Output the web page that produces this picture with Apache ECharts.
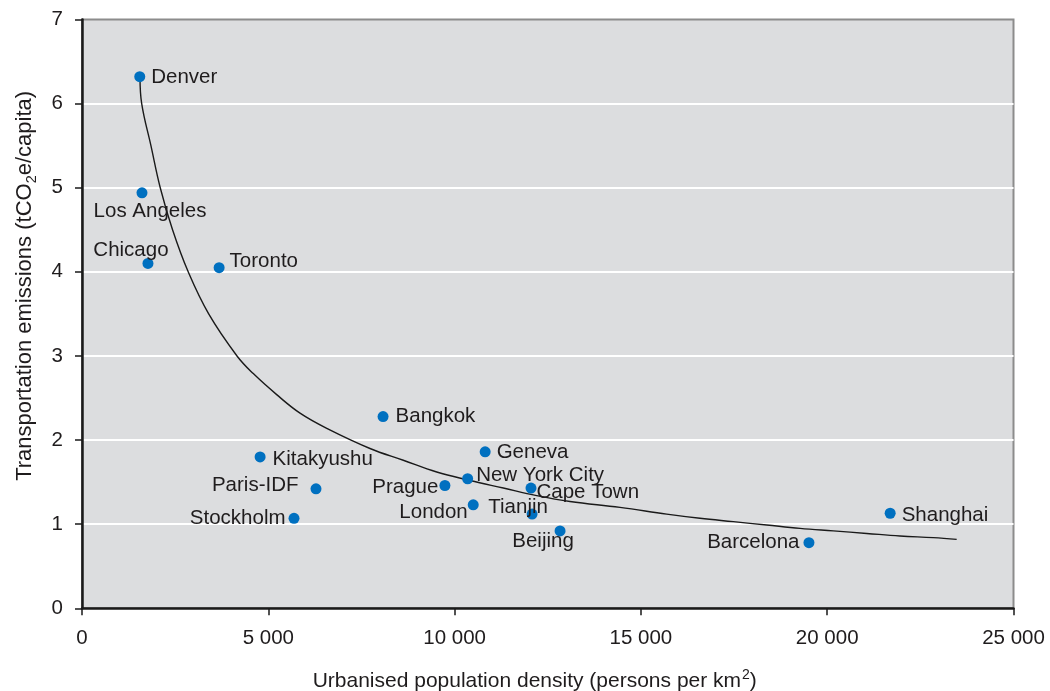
<!DOCTYPE html>
<html>
<head>
<meta charset="utf-8">
<script src="https://cdn.jsdelivr.net/npm/echarts@6/dist/echarts.min.js"></script>
<style>
  html, body { margin: 0; padding: 0; background: #ffffff; }
  #chart { width: 1050px; height: 691px; }
</style>
</head>
<body>
<div id="chart"></div>
<script>
// City observations: urbanised density (persons/km²) vs transport emissions (tCO2e/capita)
const cities = ['Denver', 'Los Angeles', 'Chicago', 'Toronto', 'Bangkok', 'Kitakyushu',
  'Paris-IDF', 'Stockholm', 'Prague', 'New York City', 'Geneva', 'London',
  'Cape Town', 'Tianjin', 'Beijing', 'Barcelona', 'Shanghai'];
const density = [1550, 1610, 1770, 3680, 8080, 4780,
  6280, 5690, 9740, 10350, 10820, 10500,
  12050, 12080, 12830, 19510, 21690];
const emissions = [6.32, 4.94, 4.10, 4.05, 2.28, 1.80,
  1.42, 1.07, 1.46, 1.54, 1.86, 1.23,
  1.43, 1.12, 0.92, 0.78, 1.13];

// Fitted trend curve, sampled along its length
const trendX = [1557, 1602, 1850, 2100, 2430, 2850, 3400, 4160, 4597, 5225, 5851, 6610,
  7729, 8623, 9520, 10413, 11307, 12203, 13097, 14439, 15692, 16586, 17480, 18376,
  19270, 20164, 21060, 21953, 22848, 23475];
const trendY = [6.32, 6.00, 5.50, 5.00, 4.50, 4.00, 3.50, 3.00, 2.79, 2.54, 2.32, 2.13,
  1.90, 1.76, 1.62, 1.52, 1.43, 1.34, 1.27, 1.20, 1.12, 1.07, 1.03, 0.99,
  0.95, 0.92, 0.89, 0.86, 0.84, 0.82];

// Axis ticks
const xTicks = [0, 5000, 10000, 15000, 20000, 25000];
const yTicks = [0, 1, 2, 3, 4, 5, 6, 7];

// Label placement per city
const labelPlacement = {
  'Denver':        { position: 'right', distance: 6, offset: [0, 1] },
  'Los Angeles':   { position: 'inside', offset: [8, 19] },
  'Chicago':       { position: 'inside', offset: [-17, -13] },
  'Toronto':       { position: 'right', distance: 5, offset: [0, -6] },
  'Bangkok':       { position: 'right', distance: 7, offset: [0, 0] },
  'Kitakyushu':    { position: 'right', distance: 7, offset: [0, 2] },
  'Paris-IDF':     { position: 'left', distance: 12, offset: [0, -4] },
  'Stockholm':     { position: 'left', distance: 3, offset: [0, 0] },
  'Prague':        { position: 'left', distance: 1, offset: [0, 2] },
  'New York City': { position: 'right', distance: 3, offset: [0, -3] },
  'Geneva':        { position: 'right', distance: 6, offset: [0, 0] },
  'London':        { position: 'left', distance: 0, offset: [0, 8] },
  'Cape Town':     { position: 'right', distance: 0, offset: [0, 4] },
  'Tianjin':       { position: 'inside', offset: [-14, -7] },
  'Beijing':       { position: 'inside', offset: [-17, 10] },
  'Barcelona':     { position: 'left', distance: 4, offset: [0, 0] },
  'Shanghai':      { position: 'right', distance: 6, offset: [0, 2] }
};

const textColor = '#1f1c1d';
const font = 'Liberation Sans, Arial, sans-serif';

const points = cities.map((name, i) => {
  const p = labelPlacement[name];
  return {
    name: name,
    value: [density[i], emissions[i]],
    label: {
      show: true,
      formatter: name,
      position: p.position,
      distance: p.distance === undefined ? 5 : p.distance,
      offset: p.offset,
      fontSize: 20.5,
      color: textColor,
      fontFamily: font
    }
  };
});

const trend = trendX.map((x, i) => [x, trendY[i]]);

function fmtThousands(v) {
  return String(v).replace(/\B(?=(\d{3})+(?!\d))/g, ' ');
}

const chart = echarts.init(document.getElementById('chart'), null, { renderer: 'canvas' });

chart.setOption({
  animation: false,
  backgroundColor: '#ffffff',
  textStyle: { fontFamily: font, color: textColor },
  grid: {
    left: 82, right: 36.5, top: 19.5, bottom: 82.7,
    outerBoundsMode: 'none',
    containLabel: false,
    show: true, backgroundColor: '#dcdddf', borderColor: '#8c8c8c', borderWidth: 2
  },
  xAxis: {
    type: 'value',
    min: xTicks[0], max: xTicks[xTicks.length - 1], interval: 5000,
    name: '{t|Urbanised population density (persons per km}{sup|2}{t|)}',
    nameLocation: 'middle', nameGap: 60,
    nameTextStyle: {
      padding: [0, 26, 0, 0],
      rich: {
        t: { fontSize: 21, color: textColor, fontFamily: font, verticalAlign: 'bottom' },
        sup: { fontSize: 14, color: textColor, fontFamily: font, verticalAlign: 'top', padding: [0, 0, 9, 1] }
      }
    },
    axisLine: { show: true, onZero: false, lineStyle: { color: '#1a1a1a', width: 2.5 } },
    axisTick: { show: true, inside: false, length: 7, lineStyle: { color: '#1a1a1a', width: 1.5 } },
    axisLabel: { fontSize: 20.5, color: textColor, margin: 20, formatter: fmtThousands },
    splitLine: { show: false }
  },
  yAxis: {
    type: 'value',
    min: yTicks[0], max: yTicks[yTicks.length - 1], interval: 1,
    name: '{t|Transportation emissions (tCO}{sub|2}{t|e/capita)}',
    nameLocation: 'middle', nameGap: 46, nameRotate: 90,
    nameTextStyle: {
      padding: [0, 0, 0, 56],
      rich: {
        t: { fontSize: 22, color: textColor, fontFamily: font, verticalAlign: 'bottom' },
        sub: { fontSize: 14.5, color: textColor, fontFamily: font, verticalAlign: 'bottom', padding: [0, 0, -3, 0] }
      }
    },
    axisLine: { show: true, onZero: false, lineStyle: { color: '#1a1a1a', width: 2.5 } },
    axisTick: { show: true, inside: false, length: 7, lineStyle: { color: '#1a1a1a', width: 1.5 } },
    axisLabel: { fontSize: 20.5, color: textColor, margin: 19 },
    splitLine: { show: true, showMaxLine: false, lineStyle: { color: '#ffffff', width: 2 } }
  },
  series: [
    {
      type: 'line',
      data: trend,
      showSymbol: false,
      smooth: 0.4,
      lineStyle: { color: '#1a1a1a', width: 1.4, join: 'round' },
      z: 2,
      silent: true
    },
    {
      type: 'scatter',
      data: points,
      symbol: 'circle',
      symbolSize: 11,
      itemStyle: { color: '#0070c0', opacity: 1 },
      z: 3
    }
  ]
});
</script>
</body>
</html>
